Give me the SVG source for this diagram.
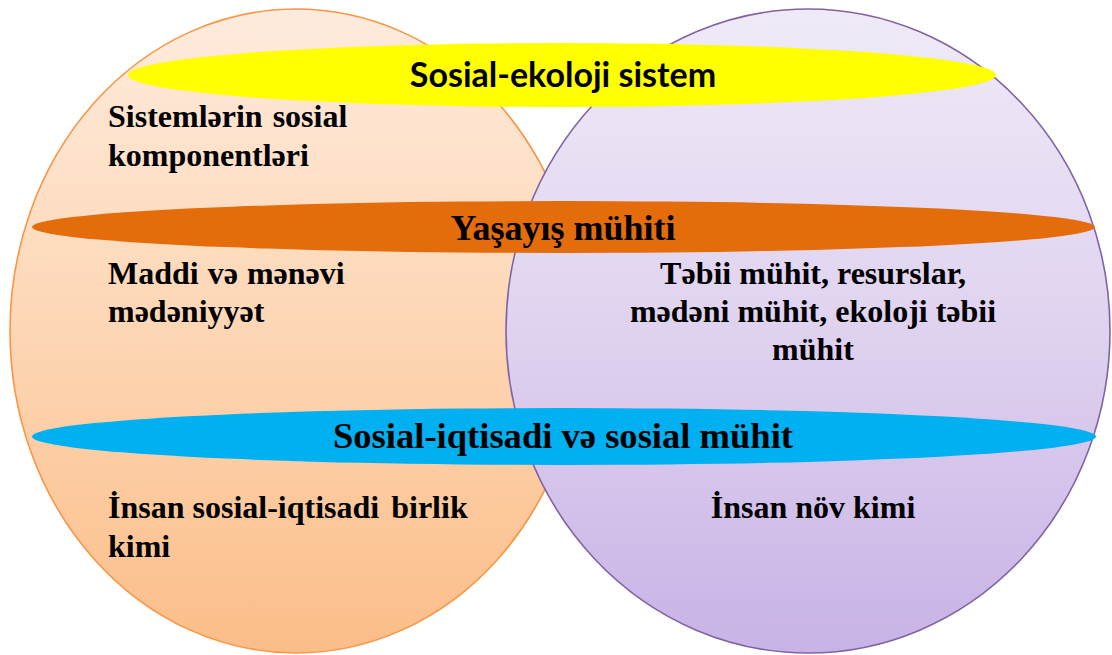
<svg xmlns="http://www.w3.org/2000/svg" width="1112" height="655" viewBox="0 0 1112 655">
  <defs>
    <linearGradient id="gOrange" x1="0" y1="0" x2="0" y2="1">
      <stop offset="0" stop-color="#FEEBDD"/>
      <stop offset="0.5" stop-color="#FDD6B4"/>
      <stop offset="1" stop-color="#FBBD88"/>
    </linearGradient>
    <linearGradient id="gPurple" x1="0" y1="0" x2="0" y2="1">
      <stop offset="0" stop-color="#EFEAF7"/>
      <stop offset="0.5" stop-color="#DFD2EF"/>
      <stop offset="1" stop-color="#C8B3E6"/>
    </linearGradient>
  </defs>
  <rect width="1112" height="655" fill="#FFFFFF"/>

  <g id="left-circle">
    <ellipse cx="296" cy="331" rx="286" ry="322" fill="url(#gOrange)" stroke="#F79646" stroke-width="1.6"/>
  </g>
  <g id="right-circle">
    <ellipse cx="808" cy="331" rx="302" ry="322" fill="url(#gPurple)" stroke="#8064A2" stroke-width="1.6"/>
  </g>

  <g id="band-orange">
    <ellipse cx="563.5" cy="227" rx="531.5" ry="26" fill="#E46C0A"/>
    <text font-family="Liberation Serif, serif" font-weight="bold" font-size="36" x="563" y="240" text-anchor="middle">Yaşayış mühiti</text>
  </g>
  <g id="band-blue">
    <ellipse cx="564" cy="436.5" rx="532" ry="28.5" fill="#00B0F0"/>
    <text font-family="Liberation Serif, serif" font-weight="bold" font-size="36" x="563" y="448" text-anchor="middle" textLength="460" lengthAdjust="spacingAndGlyphs">Sosial-iqtisadi və sosial mühit</text>
  </g>

  <g id="text-social-components">
    <text font-family="Liberation Serif, serif" font-weight="bold" font-size="32" x="108" y="127" word-spacing="2">Sistemlərin sosial</text>
    <text font-family="Liberation Serif, serif" font-weight="bold" font-size="32" x="108" y="166">komponentləri</text>
  </g>
  <g id="text-culture">
    <text font-family="Liberation Serif, serif" font-weight="bold" font-size="32" x="108" y="284" word-spacing="1">Maddi və mənəvi</text>
    <text font-family="Liberation Serif, serif" font-weight="bold" font-size="32" x="108" y="322">mədəniyyət</text>
  </g>
  <g id="text-nature">
    <text font-family="Liberation Serif, serif" font-weight="bold" font-size="32" x="813" y="284" text-anchor="middle">Təbii mühit, resurslar,</text>
    <text font-family="Liberation Serif, serif" font-weight="bold" font-size="32" x="813" y="322" text-anchor="middle">mədəni mühit, ekoloji təbii</text>
    <text font-family="Liberation Serif, serif" font-weight="bold" font-size="32" x="813" y="360" text-anchor="middle">mühit</text>
  </g>
  <g id="text-community">
    <text font-family="Liberation Serif, serif" font-weight="bold" font-size="32" x="108" y="518">İnsan sosial-iqtisadi <tspan dx="4">birlik</tspan></text>
    <text font-family="Liberation Serif, serif" font-weight="bold" font-size="32" x="108" y="557">kimi</text>
  </g>
  <g id="text-species">
    <text font-family="Liberation Serif, serif" font-weight="bold" font-size="32" x="813" y="518" text-anchor="middle">İnsan növ kimi</text>
  </g>

  <g id="band-yellow">
    <ellipse cx="562" cy="75" rx="434" ry="32" fill="#FFFF00"/>
    <text font-family="Lato, sans-serif" font-weight="bold" font-size="34" x="563" y="87" text-anchor="middle">Sosial-ekoloji sistem</text>
  </g>
</svg>
